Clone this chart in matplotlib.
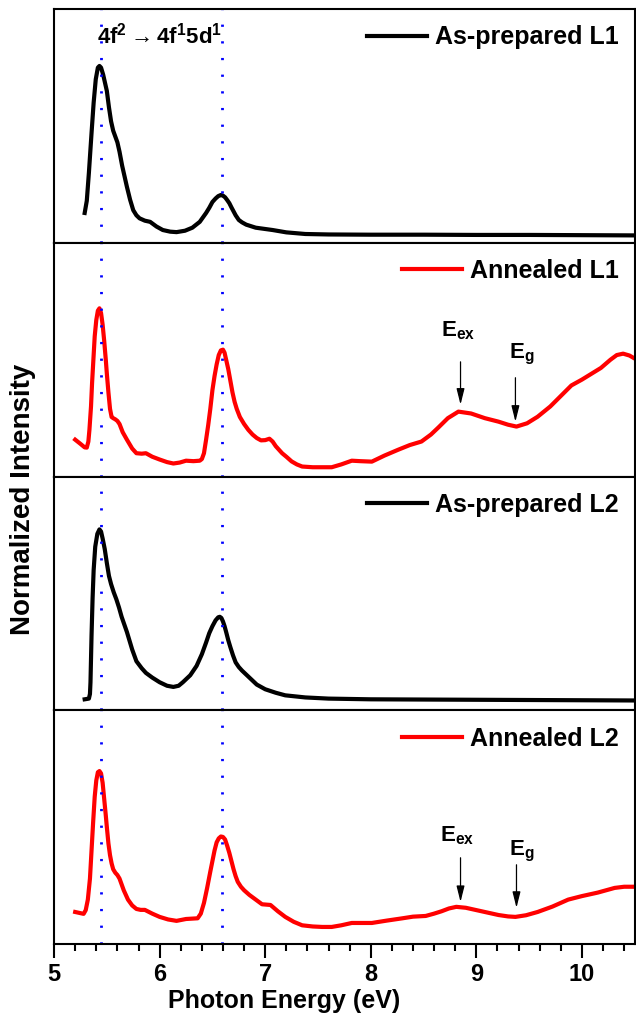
import numpy as np
import matplotlib
matplotlib.use('Agg')
import matplotlib.pyplot as plt
from matplotlib.ticker import MultipleLocator

# Spectra (normalized, per panel 0..1)
e_prep_l1 = [5.29, 5.31, 5.33, 5.355, 5.375, 5.395, 5.415, 5.43, 5.445, 5.465, 5.485, 5.50,
             5.52, 5.54, 5.56, 5.58, 5.60, 5.62, 5.645, 5.67, 5.69, 5.72, 5.75, 5.78,
             5.81, 5.86, 5.91, 5.97, 6.03, 6.10, 6.16, 6.24, 6.31, 6.38, 6.44, 6.47,
             6.50, 6.53, 6.555, 6.58, 6.60, 6.62, 6.64, 6.66, 6.68, 6.70, 6.72, 6.75,
             6.78, 6.82, 6.91, 7.07, 7.20, 7.38, 7.6, 8.0, 8.5, 9.0, 9.5, 10.0, 10.5]
i_prep_l1 = [0.128, 0.18, 0.30, 0.47, 0.60, 0.70, 0.75, 0.757, 0.75, 0.72, 0.68, 0.65,
             0.58, 0.52, 0.48, 0.455, 0.43, 0.39, 0.33, 0.28, 0.24, 0.185, 0.14, 0.118,
             0.105, 0.095, 0.09, 0.07, 0.055, 0.048, 0.046, 0.052, 0.065, 0.09, 0.128, 0.15,
             0.175, 0.19, 0.20, 0.205, 0.202, 0.195, 0.183, 0.17, 0.152, 0.135, 0.118, 0.098,
             0.088, 0.078, 0.065, 0.055, 0.045, 0.038, 0.036, 0.035, 0.035, 0.034, 0.034, 0.033, 0.032]

e_ann_l1 = [5.20, 5.25, 5.29, 5.31, 5.325, 5.335, 5.35, 5.36, 5.375, 5.385, 5.40, 5.415,
            5.43, 5.445, 5.46, 5.475, 5.49, 5.50, 5.515, 5.53, 5.545, 5.56, 5.58, 5.60,
            5.62, 5.65, 5.69, 5.74, 5.78, 5.83, 5.87, 5.93, 6.00, 6.07, 6.13, 6.19,
            6.25, 6.32, 6.38, 6.40, 6.42, 6.44, 6.46, 6.48, 6.50, 6.52, 6.54, 6.56,
            6.58, 6.60, 6.615, 6.63, 6.65, 6.67, 6.69, 6.71, 6.73, 6.76, 6.80, 6.84,
            6.88, 6.92, 6.96, 7.00, 7.04, 7.07, 7.10, 7.13, 7.16, 7.20, 7.25, 7.30,
            7.35, 7.45, 7.54, 7.63, 7.72, 7.82, 7.90, 8.01, 8.13, 8.26, 8.37, 8.48,
            8.57, 8.64, 8.73, 8.83, 8.95, 9.08, 9.21, 9.30, 9.38, 9.48, 9.58, 9.70,
            9.80, 9.90, 10.00, 10.09, 10.18, 10.27, 10.33, 10.39, 10.45, 10.5]
i_ann_l1 = [0.158, 0.14, 0.125, 0.124, 0.15, 0.20, 0.30, 0.40, 0.52, 0.60, 0.67, 0.71,
            0.72, 0.70, 0.65, 0.58, 0.50, 0.44, 0.36, 0.29, 0.255, 0.25, 0.245, 0.238,
            0.225, 0.19, 0.158, 0.12, 0.10, 0.098, 0.10, 0.085, 0.073, 0.062, 0.056, 0.06,
            0.068, 0.066, 0.068, 0.075, 0.10, 0.158, 0.22, 0.29, 0.37, 0.43, 0.48, 0.52,
            0.54, 0.543, 0.53, 0.50, 0.46, 0.41, 0.36, 0.32, 0.29, 0.255, 0.225, 0.20,
            0.18, 0.165, 0.155, 0.156, 0.162, 0.15, 0.13, 0.115, 0.10, 0.085, 0.065, 0.052,
            0.043, 0.04, 0.04, 0.04, 0.052, 0.068, 0.066, 0.064, 0.09, 0.115, 0.135, 0.15,
            0.18, 0.21, 0.25, 0.278, 0.27, 0.25, 0.235, 0.222, 0.214, 0.228, 0.256, 0.30,
            0.345, 0.39, 0.415, 0.44, 0.465, 0.50, 0.52, 0.526, 0.518, 0.505]

e_prep_l2 = [5.29, 5.33, 5.34, 5.345, 5.35, 5.355, 5.365, 5.375, 5.39, 5.41, 5.43, 5.445,
             5.46, 5.48, 5.50, 5.52, 5.54, 5.565, 5.59, 5.615, 5.64, 5.69, 5.74, 5.78,
             5.83, 5.87, 5.93, 6.00, 6.07, 6.13, 6.18, 6.22, 6.29, 6.35, 6.40, 6.44,
             6.47, 6.50, 6.53, 6.555, 6.57, 6.585, 6.60, 6.615, 6.63, 6.65, 6.67, 6.695,
             6.72, 6.75, 6.78, 6.85, 6.92, 7.00, 7.10, 7.19, 7.38, 7.6, 8.0, 9.0, 10.0, 10.5]
i_prep_l2 = [0.047, 0.05, 0.07, 0.12, 0.22, 0.32, 0.48, 0.60, 0.70, 0.755, 0.774, 0.765,
             0.735, 0.69, 0.63, 0.575, 0.54, 0.505, 0.475, 0.44, 0.40, 0.335, 0.26, 0.21,
             0.18, 0.16, 0.14, 0.12, 0.105, 0.10, 0.105, 0.12, 0.15, 0.19, 0.24, 0.29,
             0.33, 0.36, 0.385, 0.398, 0.40, 0.395, 0.38, 0.36, 0.335, 0.30, 0.27, 0.235,
             0.205, 0.185, 0.17, 0.14, 0.11, 0.09, 0.075, 0.064, 0.055, 0.05, 0.047, 0.045, 0.043, 0.042]

e_ann_l2 = [5.20, 5.25, 5.28, 5.30, 5.32, 5.34, 5.355, 5.37, 5.385, 5.40, 5.415, 5.43,
            5.445, 5.46, 5.475, 5.49, 5.50, 5.515, 5.53, 5.545, 5.56, 5.58, 5.60, 5.62,
            5.64, 5.66, 5.70, 5.74, 5.78, 5.82, 5.86, 5.93, 6.00, 6.08, 6.16, 6.25,
            6.36, 6.39, 6.42, 6.45, 6.48, 6.50, 6.52, 6.54, 6.56, 6.58, 6.60, 6.62,
            6.64, 6.66, 6.68, 6.70, 6.72, 6.74, 6.77, 6.80, 6.85, 6.91, 6.97, 7.05,
            7.12, 7.19, 7.27, 7.35, 7.45, 7.54, 7.63, 7.72, 7.82, 7.92, 8.01, 8.15,
            8.30, 8.40, 8.52, 8.60, 8.67, 8.74, 8.81, 8.90, 8.99, 9.10, 9.21, 9.30,
            9.37, 9.47, 9.58, 9.72, 9.87, 10.00, 10.15, 10.31, 10.40, 10.5]
i_ann_l2 = [0.137, 0.132, 0.129, 0.145, 0.19, 0.28, 0.40, 0.52, 0.63, 0.70, 0.735, 0.74,
            0.73, 0.69, 0.62, 0.55, 0.50, 0.43, 0.38, 0.345, 0.32, 0.305, 0.295, 0.28,
            0.255, 0.23, 0.19, 0.165, 0.15, 0.146, 0.146, 0.13, 0.116, 0.105, 0.099, 0.107,
            0.11, 0.13, 0.176, 0.24, 0.31, 0.355, 0.40, 0.435, 0.452, 0.46, 0.458, 0.447,
            0.42, 0.39, 0.355, 0.32, 0.29, 0.266, 0.245, 0.23, 0.21, 0.19, 0.17, 0.167,
            0.14, 0.116, 0.095, 0.08, 0.075, 0.073, 0.073, 0.08, 0.09, 0.09, 0.09, 0.10,
            0.11, 0.117, 0.12, 0.13, 0.14, 0.152, 0.159, 0.155, 0.146, 0.135, 0.124, 0.118,
            0.116, 0.123, 0.137, 0.16, 0.19, 0.205, 0.22, 0.24, 0.245, 0.245]

labels = ['As-prepared L1', 'Annealed L1', 'As-prepared L2', 'Annealed L2']
colors = ['black', 'red', 'black', 'red']
transitions = [5.44, 6.59]   # 4f2 -> 4f1 5d1 peaks
e_ex = 8.85
e_g = 9.38


def main():
    plt.rcParams['font.family'] = ['Liberation Sans', 'DejaVu Sans']
    plt.rcParams['font.weight'] = 'bold'
    plt.rcParams['mathtext.fontset'] = 'custom'
    plt.rcParams['mathtext.bf'] = 'Liberation Sans:bold'
    plt.rcParams['mathtext.rm'] = 'Liberation Sans:bold'
    plt.rcParams['mathtext.it'] = 'Liberation Sans:bold'
    plt.rcParams['mathtext.default'] = 'bf'

    fig, axs = plt.subplots(4, 1, sharex=True, figsize=(6.36, 10.19), dpi=100)
    fig.subplots_adjust(left=0.085, right=0.998, top=0.991, bottom=0.0736, hspace=0)

    xs = [e_prep_l1, e_ann_l1, e_prep_l2, e_ann_l2]
    ys = [i_prep_l1, i_ann_l1, i_prep_l2, i_ann_l2]

    for ax, x, y, lab, c in zip(axs, xs, ys, labels, colors):
        ax.plot(x, y, color=c, lw=3, label=lab, solid_joinstyle='round')
        for t in transitions:
            ax.axvline(t, color='blue', lw=2, linestyle=(0, (0.8, 5.2)))
        ax.set_ylim(0, 1)
        ax.set_yticks([])
        for s in ax.spines.values():
            s.set_linewidth(1.5)
        ax.tick_params(axis='x', which='both', length=0)
        ax.legend(loc='upper right', frameon=False, fontsize=18, handlelength=2.4,
                  handletextpad=0.3, borderaxespad=0.35, borderpad=0.3)

    axs[-1].set_xlim(5, 10.5)
    axs[-1].xaxis.set_major_locator(MultipleLocator(1))
    axs[-1].xaxis.set_minor_locator(MultipleLocator(0.2))
    axs[-1].tick_params(axis='x', which='major', length=10, width=1.5,
                        direction='out', labelsize=17, pad=4)
    axs[-1].tick_params(axis='x', which='minor', length=5, width=1.5, direction='out')

    axs[0].text(6.0, 0.889, r'4f$^{2}\rightarrow$4f$^{1}$5d$^{1}$',
                ha='center', va='center', fontsize=16)

    # Exciton and band gap markers
    arrow = dict(arrowstyle='-|>,head_length=0.8,head_width=0.2', lw=0.9,
                 color='black', mutation_scale=12, shrinkA=0, shrinkB=0)
    axs[1].annotate('', xy=(e_ex, 0.308), xytext=(e_ex, 0.491), arrowprops=arrow)
    axs[1].annotate('', xy=(e_g - 0.01, 0.235), xytext=(e_g - 0.01, 0.423), arrowprops=arrow)
    axs[1].text(8.83, 0.598, r'E$_{ex}$', ha='center', va='baseline', fontsize=16)
    axs[1].text(9.43, 0.504, r'E$_{g}$', ha='center', va='baseline', fontsize=16)

    axs[3].annotate('', xy=(e_ex, 0.180), xytext=(e_ex, 0.369), arrowprops=arrow)
    axs[3].annotate('', xy=(e_g, 0.155), xytext=(e_g, 0.339), arrowprops=arrow)
    axs[3].text(8.82, 0.438, r'E$_{ex}$', ha='center', va='baseline', fontsize=16)
    axs[3].text(9.43, 0.378, r'E$_{g}$', ha='center', va='baseline', fontsize=16)

    fig.text(284 / 636, 1 - 1008 / 1019, 'Photon Energy (eV)', ha='center',
             va='baseline', fontsize=18)
    fig.text(23 / 636, 1 - 499 / 1019, 'Normalized Intensity', rotation=90,
             ha='center', va='center', fontsize=20)

    fig.savefig('out.png', dpi=100)


if __name__ == '__main__':
    main()
